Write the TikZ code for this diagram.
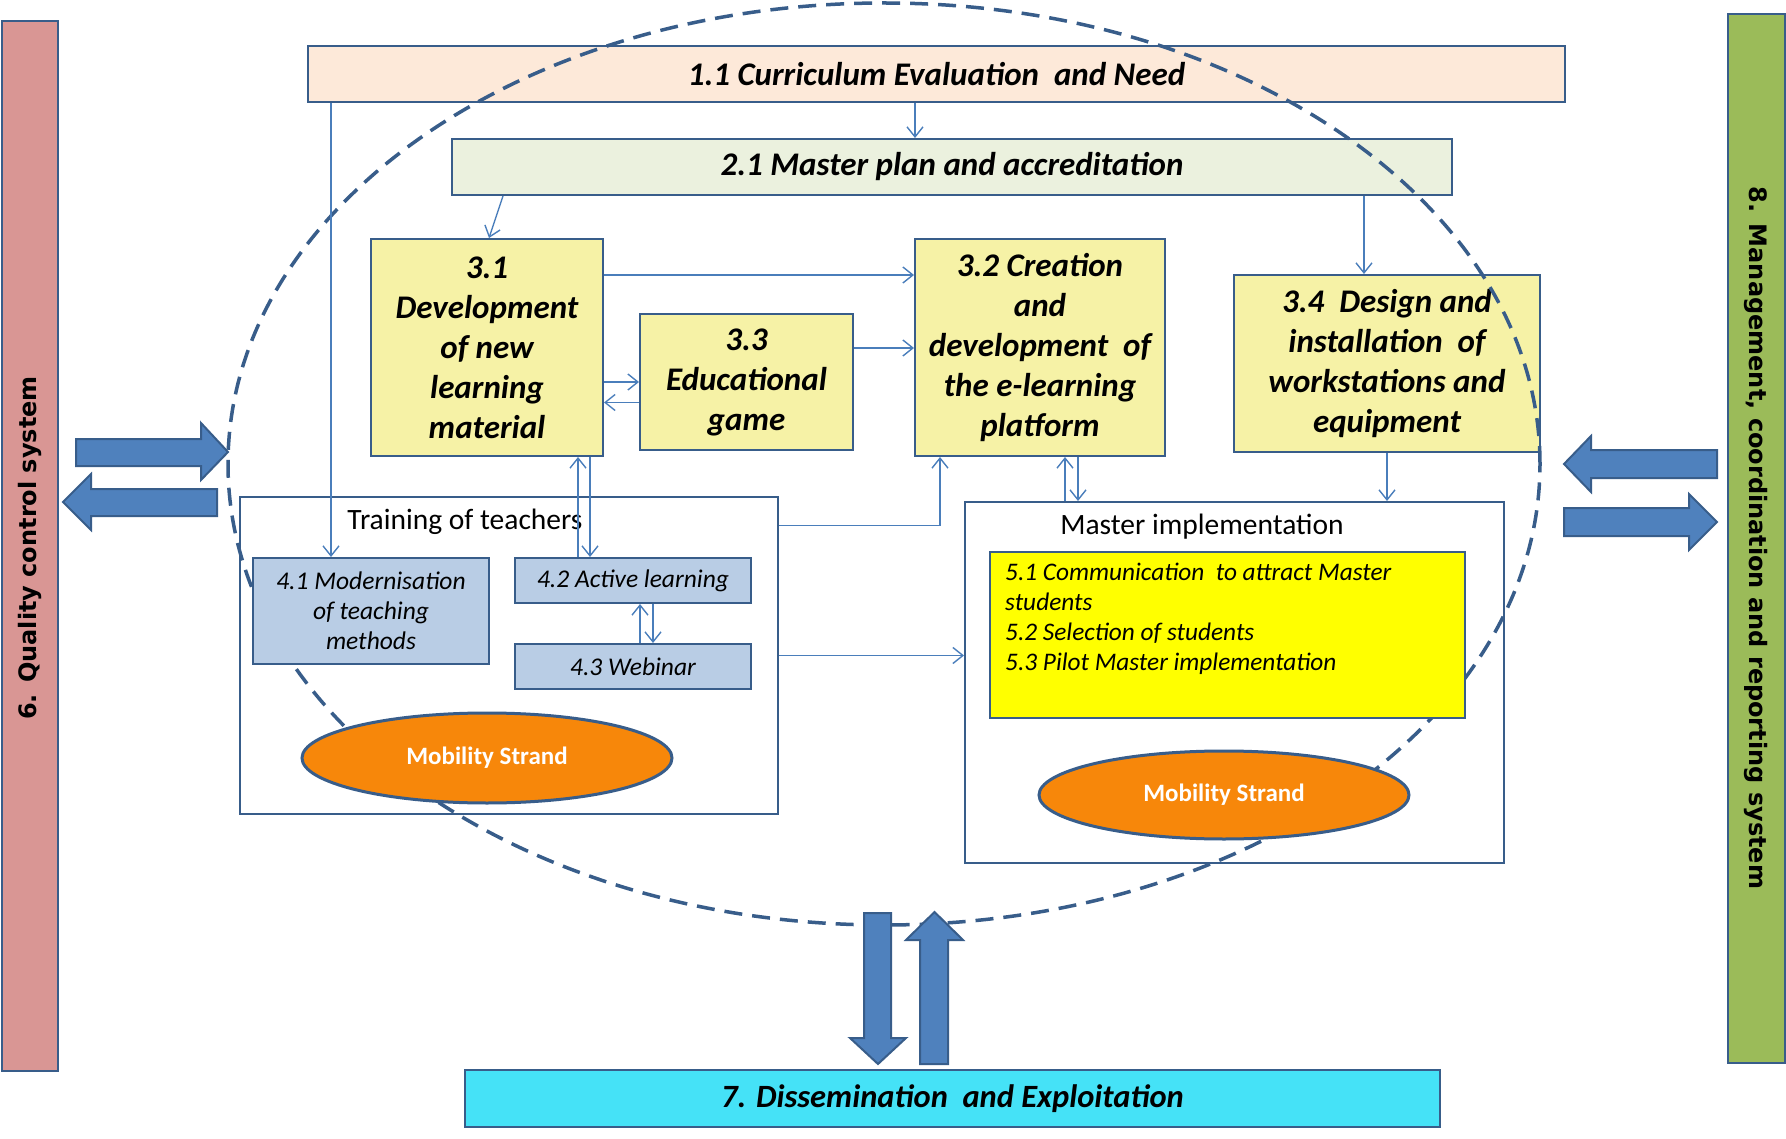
\documentclass[tikz,border=0pt]{standalone}
\usepackage{fontspec}
\setmainfont{Carlito}
\newfontfamily\vfont{DejaVu Sans}
\usetikzlibrary{arrows.meta,shapes.geometric}
\definecolor{bord}{HTML}{385D8A}
\definecolor{connc}{HTML}{4A7EBB}
\definecolor{pinkbar}{HTML}{D99694}
\definecolor{greenbar}{HTML}{9BBB59}
\definecolor{peach}{HTML}{FDE9D9}
\definecolor{palegreen}{HTML}{EBF1DE}
\definecolor{lightyel}{HTML}{F6F2A6}
\definecolor{lightblu}{HTML}{B9CDE5}
\definecolor{brightyel}{HTML}{FFFF00}
\definecolor{orangefill}{HTML}{F7870A}
\definecolor{cyanfill}{HTML}{45E2F7}
\definecolor{arrowfill}{HTML}{4F81BD}
\tikzset{
  boxbase/.style={draw=bord, line width=2pt, inner sep=0pt, align=center},
  bigtext/.style={font=\fontsize{33}{40}\selectfont\bfseries\itshape},
  topbox/.style={boxbase, bigtext},
  yelbox/.style={boxbase, fill=lightyel, bigtext},
  frame/.style={boxbase, fill=none},
  smallbox/.style={boxbase, fill=lightblu, font=\fontsize{25.5}{30}\selectfont\itshape},
  mobility/.style={ellipse, draw=bord, line width=3pt, fill=orangefill, inner sep=0pt,
     text=white, font=\fontsize{25}{28}\selectfont\bfseries},
  sidebar/.style={draw=bord, line width=2pt, inner sep=0pt},
  sidetext/.style={font=\vfont\fontsize{24}{28}\selectfont\bfseries},
  conn/.style={draw=connc, line width=1.4pt, -{Straight Barb[length=10pt,width=16pt,line width=1.4pt]}},
  bigarrow/.style={fill=arrowfill, draw=bord, line width=2pt, line join=miter},
  framelabel/.style={font=\fontsize{29.5}{32}\selectfont, inner sep=0pt}
}
\begin{document}
\begin{tikzpicture}[x=1pt,y=-1pt]
\useasboundingbox (0,0) rectangle (1786,1139);
\fill[white] (0,0) rectangle (1786,1139);

% side bars
\node[sidebar, fill=pinkbar, minimum width=56pt, minimum height=1050pt] (qc) at (30,546) {};
\node[sidetext, rotate=90] (qct) at (30,548) {6. Quality control system};
\node[sidebar, fill=greenbar, minimum width=57pt, minimum height=1049pt] (mg) at (1756.5,538.5) {};
\node[sidetext, rotate=-90] (mgt) at (1756.5,538) {8. Management, coordination and reporting system};

% top boxes
\node[topbox, fill=peach, minimum width=1257pt, minimum height=56pt] (b11) at (936.5,74) {1.1 Curriculum Evaluation\ \ and Need};
\node[topbox, fill=palegreen, minimum width=1000pt, minimum height=56pt] (b21) at (952,167) {2.1 Master plan and accreditation};

% level 3 boxes
\node[yelbox, minimum width=232pt, minimum height=217pt] (b31) at (487,347.5) {3.1\\Development\\of new\\learning\\material};
\node[yelbox, minimum width=213pt, minimum height=136pt] (b33) at (746.5,382) {3.3\\Educational\\game};
\node[yelbox, minimum width=250pt, minimum height=217pt] (b32) at (1040,347.5) {3.2 Creation\\and\\development\ \ of\\the e-learning\\platform};
\node[yelbox, minimum width=306pt, minimum height=177pt] (b34) at (1387,363.5) {3.4\ \ Design and\\installation\ \ of\\workstations and\\equipment};

% frames
\node[frame, minimum width=538pt, minimum height=317pt] (train) at (509,655.5) {};
\node[frame, minimum width=539pt, minimum height=361pt] (master) at (1234.5,682.5) {};

% dashed ellipse
\draw[bord, line width=3.5pt, dash pattern=on 18pt off 10pt] (884,464) ellipse [x radius=656pt, y radius=461pt];

% labels in frames
\node[framelabel] (trainlbl) at (465,522) {Training of teachers};
\node[framelabel] (masterlbl) at (1202,527) {Master implementation};

% level 4 boxes
\node[smallbox, minimum width=236pt, minimum height=106pt] (b41) at (371,611) {4.1 Modernisation\\of teaching\\methods};
\node[smallbox, minimum width=236pt, minimum height=45pt] (b42) at (633,580.5) {4.2 Active learning};
\node[smallbox, minimum width=236pt, minimum height=45pt] (b43) at (633,666.5) {4.3 Webinar};

% level 5 box
\node[boxbase, fill=brightyel, minimum width=475pt, minimum height=166pt] (b5) at (1227.5,635) {};
\node[anchor=north west, align=left, inner sep=0pt, font=\fontsize{25.3}{30}\selectfont\itshape] (t5) at (1005,563)
  {5.1 Communication\ \ to attract Master\\students\\5.2 Selection of students\\5.3 Pilot Master implementation};

% mobility strands
\node[mobility, minimum width=370pt, minimum height=90pt] (mob1) at (487,758) {Mobility Strand};
\node[mobility, minimum width=370pt, minimum height=88pt] (mob2) at (1224,795) {Mobility Strand};

% dissemination
\node[topbox, fill=cyanfill, minimum width=975pt, minimum height=57pt, font=\fontsize{32.5}{40}\selectfont\bfseries\itshape] (diss) at (952.5,1098.5) {7. Dissemination\ \ and Exploitation};

% connectors
\draw[conn] ([xshift=-21.5pt]b11.south) -- ([xshift=-37pt]b21.north);
\draw[conn] ([xshift=-605.5pt]b11.south) -- ([xshift=-40pt]b41.north);
\draw[conn] ([xshift=-449pt]b21.south) -- ([xshift=2pt]b31.north);
\draw[conn] ([xshift=412pt]b21.south) -- ([xshift=-23pt]b34.north);
\draw[conn] ([yshift=72.5pt]b31.east) -- ([yshift=72.5pt]b32.west);
\draw[conn] ([yshift=34pt]b33.east) -- ([yshift=34pt]b33.east -| b32.west);
\draw[conn] ([yshift=-34.5pt]b31.east) -- (b33.west);
\draw[conn] ([yshift=-20.5pt]b33.west) -- ([yshift=-55pt]b31.east);
\draw[conn] ([xshift=-55pt]b42.north) -- ([xshift=91pt]b31.south);
\draw[conn] ([xshift=103pt]b31.south) -- ([xshift=-43pt]b42.north);
\draw[conn] ([yshift=130pt]train.east) -| ([xshift=-100pt]b32.south);
\draw[conn] (train.east) -- ([yshift=27pt]master.west);
\draw[conn] ([xshift=-169.5pt]master.north) -- ([xshift=25pt]b32.south);
\draw[conn] ([xshift=38pt]b32.south) -- ([xshift=-156.5pt]master.north);
\draw[conn] (b34.south) -- ([xshift=152.5pt]master.north);
\draw[conn] ([xshift=7pt]b43.north) -- ([xshift=7pt]b42.south);
\draw[conn] ([xshift=20pt]b42.south) -- ([xshift=20pt]b43.north);

% big block arrows
\draw[bigarrow] (76,439) -- (201,439) -- (201,423) -- (228,452) -- (201,480) -- (201,466) -- (76,466) -- cycle;
\draw[bigarrow] (217,489) -- (91,489) -- (91,474) -- (63,502) -- (91,530) -- (91,516) -- (217,516) -- cycle;
\draw[bigarrow] (1717,450) -- (1591,450) -- (1591,436) -- (1564,464) -- (1591,492) -- (1591,478) -- (1717,478) -- cycle;
\draw[bigarrow] (1564,508) -- (1689,508) -- (1689,494) -- (1717,522) -- (1689,550) -- (1689,536) -- (1564,536) -- cycle;
\draw[bigarrow] (864,913) -- (891,913) -- (891,1038) -- (906,1038) -- (878,1064) -- (850,1038) -- (864,1038) -- cycle;
\draw[bigarrow] (920,1064) -- (920,940) -- (906,940) -- (934.5,912) -- (963,940) -- (948,940) -- (948,1064) -- cycle;
\end{tikzpicture}
\end{document}
